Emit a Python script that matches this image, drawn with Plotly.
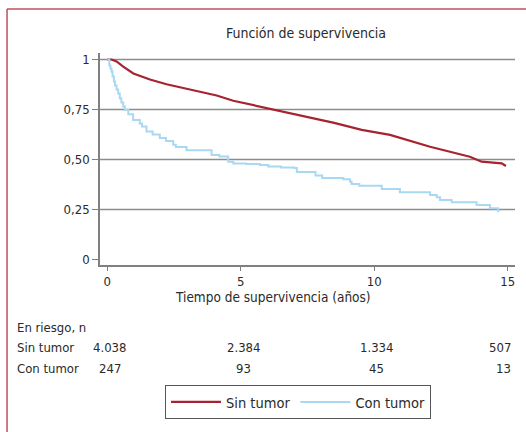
import plotly.graph_objects as go

# Data
t_sin = [0, 0.16, 0.35, 0.6, 0.98, 1.6, 2.22, 2.85, 3.47, 4.1, 4.72, 5.72, 6.5, 7.3, 8.5,
         9.53, 10.59, 12.09, 13.58, 14.02, 14.46, 14.77, 14.93]
s_sin = [1, 1, 0.99, 0.964, 0.93, 0.9, 0.876, 0.856, 0.84, 0.82, 0.794, 0.764, 0.742, 0.72, 0.683,
         0.648, 0.623, 0.564, 0.514, 0.489, 0.486, 0.481, 0.4675]

t_con = [0, 0.08, 0.12, 0.16, 0.2, 0.25, 0.29, 0.35, 0.41, 0.47, 0.53, 0.6, 0.66, 0.79, 0.97,
         1.22, 1.3, 1.47, 1.7, 1.97, 2.2, 2.47, 2.57, 2.97, 3.91, 4.2, 4.53, 4.72, 5.2, 5.72,
         6.03, 6.5, 7.0, 7.1, 7.8, 8.05, 8.84, 9.09, 9.15, 9.44, 10.28, 10.96, 12.09, 12.34,
         12.46, 12.9, 13.83, 14.33, 14.64]
s_con = [1.0, 0.97, 0.955, 0.94, 0.915, 0.89, 0.87, 0.85, 0.83, 0.806, 0.785, 0.765, 0.747, 0.726, 0.697,
         0.68, 0.665, 0.64, 0.625, 0.607, 0.592, 0.574, 0.562, 0.546, 0.522, 0.515, 0.489, 0.48, 0.477, 0.472,
         0.465, 0.46, 0.457, 0.437, 0.42, 0.408, 0.401, 0.389, 0.3775, 0.369, 0.3525, 0.336, 0.3225, 0.311,
         0.2975, 0.286, 0.2725, 0.256, 0.236]

x_ticks = [0, 5, 10, 15]
y_ticks = [0, 0.25, 0.5, 0.75, 1]
y_ticktext = ["0", "0,25", "0,50", "0,75", "1"]
grid_vals = [0.25, 0.5, 0.75, 1]

risk_groups = ["Sin tumor", "Con tumor"]
risk_sin = ["4.038", "2.384", "1.334", "507"]
risk_con = ["247", "93", "45", "13"]

FONT = "DejaVu Sans Condensed, Liberation Sans Narrow, sans-serif"
RED = "#a6232f"
BLUE = "#a8d8f2"
TXT = "#2a2a2a"

fig = go.Figure()
fig.add_trace(go.Scatter(x=t_sin, y=s_sin, mode="lines", name="Sin tumor",
                         line=dict(color=RED, width=2.2)))
fig.add_trace(go.Scatter(x=t_con, y=s_con, mode="lines", name="Con tumor",
                         line=dict(color=BLUE, width=2, shape="hv")))

# horizontal gridlines (no line at 0)
for g in grid_vals:
    fig.add_shape(type="line", xref="paper", yref="y", x0=0, x1=1, y0=g, y1=g,
                  line=dict(color="#8c8c8c", width=1.5), layer="below")

# frame border (left and top visible)
fig.add_shape(type="line", xref="paper", yref="paper", x0=-0.224, x1=-0.224, y0=1.2075, y1=-1.5,
              line=dict(color="#c0505a", width=1.5))
fig.add_shape(type="line", xref="paper", yref="paper", x0=-0.224, x1=1.5, y0=1.2075, y1=1.2075,
              line=dict(color="#c0505a", width=1.5))

ann = []
ann.append(dict(text="Función de supervivencia", xref="paper", yref="paper",
                x=(306 - 100) / 415, y=(265 - 33) / 212, xanchor="center", yanchor="middle",
                showarrow=False, font=dict(size=14, color=TXT, family=FONT)))
ann.append(dict(text="Tiempo de supervivencia (años)", xref="paper", yref="paper",
                x=(273 - 100) / 415, y=(265 - 297) / 212, xanchor="center", yanchor="middle",
                showarrow=False, font=dict(size=13.5, color=TXT, family=FONT)))
ann.append(dict(text="En riesgo, n", xref="paper", yref="paper",
                x=(15 - 100) / 415, y=(265 - 327) / 212, xanchor="left", yanchor="middle",
                showarrow=False, font=dict(size=13, color=TXT, family=FONT)))
for row, (grp, vals) in enumerate(zip(risk_groups, [risk_sin, risk_con])):
    yy = (265 - (347 + row * 21)) / 212
    ann.append(dict(text=grp, xref="paper", yref="paper", x=(15 - 100) / 415, y=yy,
                    xanchor="left", yanchor="middle", showarrow=False,
                    font=dict(size=13, color=TXT, family=FONT)))
    for i, v in enumerate(vals):
        last = i == len(vals) - 1
        ann.append(dict(text=v, xref="x", yref="paper",
                        x=15.2 if last else x_ticks[i] + 0.1, y=yy,
                        xanchor="right" if last else "center", yanchor="middle",
                        showarrow=False, font=dict(size=13, color=TXT, family=FONT)))

fig.update_layout(
    width=526, height=432,
    margin=dict(l=100, r=11, t=53, b=167),
    paper_bgcolor="white", plot_bgcolor="white",
    font=dict(family=FONT, size=13, color=TXT),
    showlegend=True,
    legend=dict(orientation="h", x=(298 - 100) / 415, xanchor="center",
                y=(265 - 385) / 212, yanchor="top",
                bordercolor="#555555", borderwidth=1,
                font=dict(size=14.5, family=FONT, color=TXT), itemwidth=50),
    annotations=ann,
    xaxis=dict(range=[-0.27, 15.27], tickvals=x_ticks, showgrid=False, zeroline=False,
               showline=True, linecolor="#808080", linewidth=1.5,
               ticks="outside", ticklen=4, tickcolor="#808080",
               tickfont=dict(size=13, color=TXT, family=FONT)),
    yaxis=dict(range=[-0.0275, 1.0325], tickvals=y_ticks, ticktext=y_ticktext,
               showgrid=False, zeroline=False,
               showline=True, linecolor="#808080", linewidth=1.5,
               ticks="outside", ticklen=6, tickcolor="#808080",
               tickfont=dict(size=13, color=TXT, family=FONT)),
)

fig.write_html("out.html", config={"displayModeBar": False},
               post_script="document.body.style.margin='0';")
